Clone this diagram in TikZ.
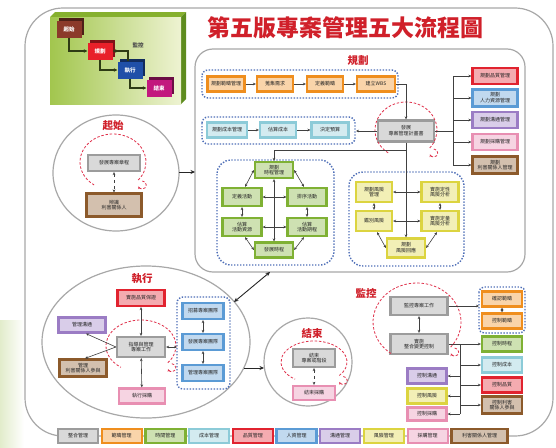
\documentclass[tikz,border=0pt]{standalone}
\usepackage{fontspec}
\setmainfont{Noto Sans CJK TC}
\usetikzlibrary{arrows.meta,calc}
\definecolor{cGry}{HTML}{9C9C9C}
\definecolor{cOra}{HTML}{EF8E1E}
\definecolor{cGrn}{HTML}{7FB134}
\definecolor{cLbl}{HTML}{8CCBD8}
\definecolor{cRed}{HTML}{E1232F}
\definecolor{cBlu}{HTML}{5B9BD5}
\definecolor{cPur}{HTML}{9B7CC4}
\definecolor{cYel}{HTML}{DCD440}
\definecolor{cPnk}{HTML}{E88FB2}
\definecolor{cBrn}{HTML}{8C5A2B}
\definecolor{cGrp}{HTML}{4F6FB8}
\definecolor{cRdd}{HTML}{E0304A}
\definecolor{cFrm}{HTML}{A8A8A8}
\definecolor{cTitle}{HTML}{D0202A}
\definecolor{cLegL}{HTML}{A2C64E}
\definecolor{cLegR}{HTML}{EEF3D2}
\definecolor{cLegTop}{HTML}{86B02E}
\definecolor{cLegSide}{HTML}{5E8C1E}
\definecolor{cLgBrn}{HTML}{8B3A2A}
\definecolor{cLgRed}{HTML}{E8202A}
\definecolor{cLgBlu}{HTML}{1F4FA8}
\definecolor{cLgMag}{HTML}{C2187E}
\definecolor{cDeco}{HTML}{E2ECCB}
\definecolor{cLgLine}{HTML}{2E3B14}
\newcommand\bxfont{\fontsize{5}{5.8}\selectfont}
\newcommand\labfont{\fontsize{10.5}{12}\selectfont\bfseries}
\newcommand\titlefont{\fontsize{23}{26}\selectfont\bfseries}
\newcommand\lgfont{\fontsize{5.5}{6}\selectfont\bfseries}
\newcommand\lgbox[5]{\fill[#4!55!black] (#2-10,#3-11) rectangle (#2+15,#3+6);
  \node[lg=#4] (#1) at (#2,#3) {#5};}
\newcommand\ring[3]{%
  \draw[rd] (#1) ++(-40:#2pt and #3pt) arc[start angle=-40, end angle=235, x radius=#2pt, y radius=#3pt];
  \draw[rd,-{Stealth[length=2.5pt,width=2.5pt]}] (#1) ++(-40:#2pt and #3pt) ++(4pt,-1pt) arc[start angle=90, end angle=-160, radius=4pt];}
\begin{document}
\begin{tikzpicture}[x=1pt,y=-1pt,
  bx/.style={draw=#1, fill=#1!38!white, line width=2.2pt, text=black!85, font=\bxfont, align=center, inner sep=0pt, minimum height=15},
  lg/.style={fill=#1, text=white, font=\lgfont, minimum width=25, minimum height=17, inner sep=0pt},
  arr/.style={draw=black!75, line width=0.6pt, -{Stealth[length=3pt,width=2.6pt]}},
  darr/.style={draw=black!75, line width=0.6pt, {Stealth[length=3pt,width=2.6pt]}-{Stealth[length=3pt,width=2.6pt]}},
  ln/.style={draw=black!75, line width=0.6pt},
  grp/.style={draw=cGrp, line width=1.4pt, dash pattern=on 1.4pt off 1.6pt, rounded corners=#1},
  grp/.default=6,
  rd/.style={draw=cRdd, line width=0.8pt, dash pattern=on 2.5pt off 1.8pt},
  frm/.style={draw=cFrm, line width=1.2pt},
  lab/.style={text=cTitle, font=\labfont},
  lgl/.style={draw=cLgLine, line width=1.3pt, -{Stealth[length=3.5pt,width=3.5pt]}},
  big/.style={draw=black!85, line width=0.9pt, {Stealth[length=4.5pt,width=4pt]}-{Stealth[length=4.5pt,width=4pt]}},
  bigr/.style={draw=black!85, line width=0.9pt, -{Stealth[length=4.5pt,width=4pt]}}]
\useasboundingbox (0,0) rectangle (556,447);
\fill[white] (0,0) rectangle (556,447);
\shade[left color=cDeco, right color=white] (0,320) rectangle (24,447);
% main frame
\draw[frm, fill=white, rounded corners=38] (25,8) rectangle (553,436);
% legend top-left
\fill[cLegTop] (50,17) -- (55,12) -- (186,12) -- (181,17) -- cycle;
\fill[cLegSide] (181,17) -- (186,12) -- (186,99) -- (181,104) -- cycle;
\shade[left color=cLegL, right color=cLegR] (50,17) rectangle (181,104);
\lgbox{lg1}{69}{29}{cLgBrn}{起始}
\lgbox{lg2}{100}{51}{cLgRed}{規劃}
\lgbox{lg3}{130}{70}{cLgBlu}{執行}
\lgbox{lg4}{159}{88}{cLgMag}{結束}
\draw[lgl] (lg1.south) |- (lg2.west);
\draw[lgl] (lg2.south) |- (lg3.west);
\draw[lgl] (lg3.south) |- (lg4.west);
\draw[lgl] ([xshift=-2pt]lg3.north) |- (lg2.east);
\node[font=\lgfont, text=black!70] (lgm) at (138,45) {監控};
% title
\node[text=cTitle, font=\titlefont] (title) at (345,28) {第五版專案管理五大流程圖};
% ---------- planning panel
\draw[frm, fill=white, rounded corners=18] (195,49) rectangle (525,272);
\node[lab] (lp) at (358,61) {規劃};
\draw[grp] (202,70) rectangle (398,98);
\node[bx=cOra, minimum width=37] (s1) at (226,84) {規劃範疇管理};
\node[bx=cOra, minimum width=36] (s2) at (275,84) {蒐集需求};
\node[bx=cOra, minimum width=36] (s3) at (325,84) {定義範疇};
\node[bx=cOra, minimum width=38] (s4) at (376,84) {建立WBS};
\draw[arr] (s1) -- (s2); \draw[arr] (s2) -- (s3); \draw[arr] (s3) -- (s4);
\draw[grp] (202,117) rectangle (355,144);
\node[bx=cLbl, minimum width=40] (c1) at (227,130) {規劃成本管理};
\node[bx=cLbl, minimum width=36] (c2) at (278,130) {估算成本};
\node[bx=cLbl, minimum width=37] (c3) at (330,130) {決定預算};
\draw[arr] (c1) -- (c2); \draw[arr] (c2) -- (c3);
\node[bx=cGry, minimum width=56, minimum height=21] (dev) at (406,131) {發展\\專案管理計畫書};
\ring{406,130}{31}{28}
\draw[arr] (s4.east) -| (dev.north);
\coordinate (cg) at (356,131);
\draw[arr] (dev.west) -- (cg);
% right column
\node[bx=cRed, minimum width=45, minimum height=16] (q) at (495,76) {規劃品質管理};
\node[bx=cBlu, minimum width=45, minimum height=17] (h) at (495,98) {規劃\\人力資源管理};
\node[bx=cPur, minimum width=45, minimum height=16] (pm) at (495,120) {規劃溝通管理};
\node[bx=cPnk, minimum width=45, minimum height=16] (pp) at (495,142) {規劃採購管理};
\node[bx=cBrn, minimum width=45, minimum height=17] (pk) at (495,165) {規劃\\利害關係人管理};
\coordinate (bus1) at (453,131);
\draw[ln] (dev.east) -- (bus1);
\draw[ln] (q.west -| bus1) -- (pk.west -| bus1);
\foreach \n in {q,h,pm,pp,pk} \draw[arr] (\n.west -| bus1) -- (\n.west);
% time group
\draw[grp=14] (217,160) rectangle (334,265);
\node[bx=cGrn, minimum width=38, minimum height=16] (t0) at (274,170) {規劃\\時程管理};
\node[bx=cGrn, minimum width=39, minimum height=18] (t1) at (242,197) {定義活動};
\node[bx=cGrn, minimum width=39, minimum height=18] (t2) at (307,197) {排序活動};
\node[bx=cGrn, minimum width=39, minimum height=18] (t3) at (242,227) {估算\\活動資源};
\node[bx=cGrn, minimum width=39, minimum height=18] (t4) at (307,227) {估算\\活動期程};
\node[bx=cGrn, minimum width=38, minimum height=15] (t5) at (274,250) {發展時程};
\draw[darr] (t0.west) -- ([xshift=3pt]t1.north);
\draw[darr] (t0.east) -- ([xshift=-3pt]t2.north);
\draw[darr] (t1) -- (t2); \draw[darr] (t1) -- (t3); \draw[darr] (t2) -- (t4); \draw[darr] (t3) -- (t4);
\draw[darr] ([xshift=3pt]t3.south) -- (t5.west);
\draw[darr] ([xshift=-3pt]t4.south) -- (t5.east);
\draw[darr] (t0) -- (t5);
% risk group
\draw[grp=14] (349,172) rectangle (464,266);
\node[bx=cYel, minimum width=36, minimum height=20] (r0) at (374,192) {規劃風險\\管理};
\node[bx=cYel, minimum width=37, minimum height=20] (r1) at (440,192) {實施定性\\風險分析};
\node[bx=cYel, minimum width=36, minimum height=20] (r2) at (374,221) {鑑別風險};
\node[bx=cYel, minimum width=37, minimum height=20] (r3) at (440,221) {實施定量\\風險分析};
\node[bx=cYel, minimum width=38, minimum height=19] (r4) at (406,248) {規劃\\風險回應};
\draw[darr] (r0) -- (r1); \draw[darr] (r2) -- (r3); \draw[darr] (r0) -- (r2); \draw[darr] (r1) -- (r3);
\draw[darr] ([xshift=3pt]r2.south) -- (r4.west);
\draw[darr] ([xshift=-3pt]r3.south) -- (r4.east);
\coordinate (jn) at (406,150);
\draw[arr] (dev.south) -- (r4.north);
\draw[arr] (jn) -| (t0.north);
% ---------- initiating
\draw[frm, fill=white] (116,173) ellipse [x radius=63, y radius=58];
\node[lab] (li) at (113,126) {起始};
\node[bx=cGry, minimum width=52, minimum height=16] (i1) at (114,163) {發展專案章程};
\node[bx=cBrn, minimum width=55, minimum height=23] (i2) at (114,205) {辨識\\利害關係人};
\draw[darr, dashed] (i1) -- (i2);
\ring{113,162}{33}{28}
\coordinate (ie) at (179,172); \coordinate (pw) at (195,172);
\draw[bigr] (ie) -- (pw);
% ---------- executing
\draw[frm, fill=white] (146,342) ellipse [x radius=104, y radius=76];
\node[lab] (le) at (142,279) {執行};
\node[bx=cRed, minimum width=47, minimum height=16] (e1) at (141,298) {實施品質保證};
\node[bx=cPur, minimum width=47, minimum height=15] (e2) at (82,325) {管理溝通};
\node[bx=cGry, minimum width=48, minimum height=20] (e0) at (141,347) {指導與管理\\專案工作};
\node[bx=cBrn, minimum width=47, minimum height=17] (e3) at (83,368) {管理\\利害關係人參與};
\node[bx=cPnk, minimum width=46, minimum height=15] (e4) at (142,396) {執行採購};
\draw[grp] (177,297) rectangle (230,389);
\node[bx=cBlu, minimum width=41, minimum height=16] (b1) at (203,311) {招募專案團隊};
\node[bx=cBlu, minimum width=41, minimum height=16] (b2) at (203,342) {發展專案團隊};
\node[bx=cBlu, minimum width=41, minimum height=16] (b3) at (203,373) {管理專案團隊};
\ring{141,346}{35}{26}
\draw[darr] (e0) -- (e1); \draw[darr] (e0) -- (e4);
\draw[arr] (e0.west) -- ([xshift=4pt]e2.south);
\draw[arr] (e0.west) -- ([xshift=2pt]e3.north);
\coordinate (bg) at (177,347);
\draw[darr] (e0.east) -- (bg);
\draw[darr] (b1) -- (b2); \draw[darr] (b2) -- (b3);
\coordinate (pb) at (270,272); \coordinate (eb) at (234,302);
\draw[big] (pb) -- (eb);
% ---------- closing
\draw[frm, fill=white] (308,362) circle [radius=44];
\node[lab] (lf) at (312,333) {結束};
\node[bx=cGry, minimum width=42, minimum height=18] (f1) at (314,358) {結束\\專案或階段};
\node[bx=cPnk, minimum width=42, minimum height=14] (f2) at (314,393) {結束採購};
\draw[darr, dashed] (f1) -- (f2);
\ring{314,362}{33}{21}
\coordinate (ee) at (244,368); \coordinate (fw) at (264,368);
\draw[bigr] (ee) -- (fw);
% ---------- monitoring
\node[lab] (lm) at (366,293) {監控};
\node[bx=cGry, minimum width=57, minimum height=18] (m1) at (419,306) {監控專案工作};
\node[bx=cGry, minimum width=57, minimum height=20] (m2) at (419,344) {實施\\整合變更控制};
\draw[darr] (m1) -- (m2);
\ring{417,322}{44}{39}
\draw[grp=5] (479,287) rectangle (525,333);
\node[bx=cOra, minimum width=40, minimum height=15] (o1) at (502,299) {確認範疇};
\node[bx=cOra, minimum width=40, minimum height=15] (o2) at (502,321) {控制範疇};
\draw[darr] (o1) -- (o2);
\coordinate (og) at (479,306);
\draw[arr] (m1.east) -- (og);
\node[bx=cGrn, minimum width=40, minimum height=15] (g1) at (502,344) {控制時程};
\node[bx=cLbl, minimum width=40, minimum height=15] (g2) at (502,365) {控制成本};
\node[bx=cRed, minimum width=40, minimum height=15] (g3) at (502,385) {控制品質};
\node[bx=cBrn, minimum width=40, minimum height=17] (g4) at (502,405) {控制利害\\關係人參與};
\node[bx=cPur, minimum width=39, minimum height=15] (l1) at (427,376) {控制溝通};
\node[bx=cYel, minimum width=39, minimum height=15] (l2) at (427,396) {控制風險};
\node[bx=cPnk, minimum width=39, minimum height=13] (l3) at (427,414) {控制採購};
\coordinate (mbb) at (460,414);
\draw[ln] (m2.east) -| (mbb);
\foreach \n in {g1,g2,g3,g4} \draw[arr] (\n.west -| mbb) -- (\n.west);
\foreach \n in {l1,l2,l3} \draw[arr] (\n.east -| mbb) -- (\n.east);
% ---------- bottom legend
\node[bx=cGry, minimum width=40, minimum height=14] (L1) at (78,436) {整合管理};
\node[bx=cOra, minimum width=40, minimum height=14] (L2) at (121.7,436) {範疇管理};
\node[bx=cGrn, minimum width=40, minimum height=14] (L3) at (165.4,436) {時間管理};
\node[bx=cLbl, minimum width=40, minimum height=14] (L4) at (209.1,436) {成本管理};
\node[bx=cRed, minimum width=40, minimum height=14] (L5) at (252.8,436) {品質管理};
\node[bx=cBlu, minimum width=40, minimum height=14] (L6) at (296.5,436) {人資管理};
\node[bx=cPur, minimum width=40, minimum height=14] (L7) at (340.2,436) {溝通管理};
\node[bx=cYel, minimum width=40, minimum height=14] (L8) at (383.9,436) {風險管理};
\node[bx=cPnk, minimum width=40, minimum height=14] (L9) at (427.6,436) {採購管理};
\node[bx=cBrn, minimum width=56, minimum height=14] (L10) at (479.5,436) {利害關係人管理};
\end{tikzpicture}
\end{document}
